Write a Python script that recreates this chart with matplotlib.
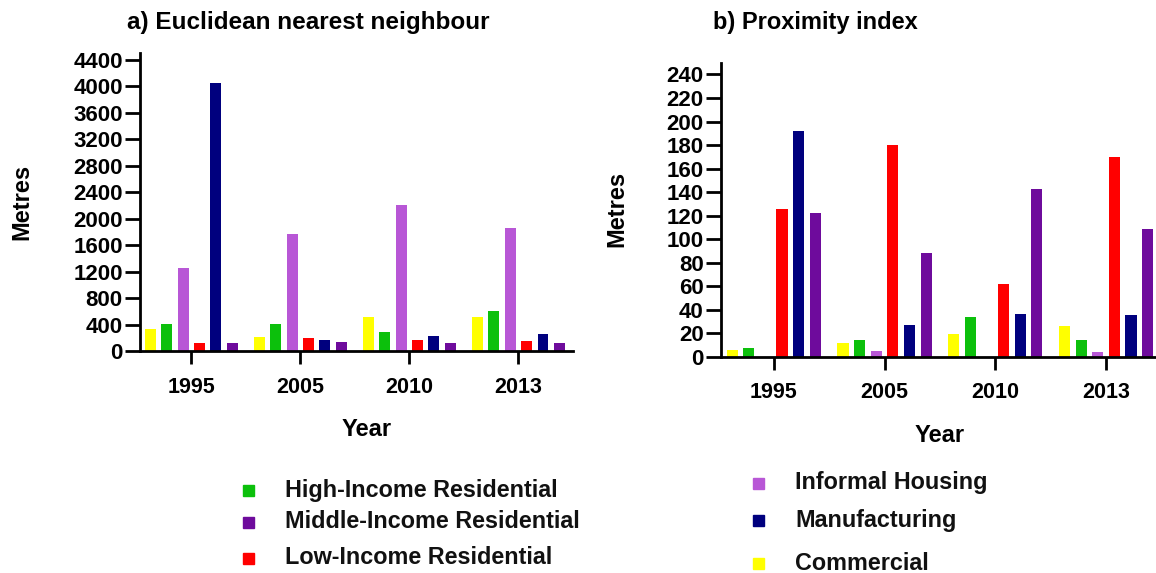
import numpy as np
import matplotlib
matplotlib.use("Agg")
import matplotlib.pyplot as plt
from matplotlib.patches import Rectangle

plt.rcParams['font.family'] = ['Liberation Sans', 'DejaVu Sans']
plt.rcParams['font.weight'] = 'bold'

years = ['1995', '2005', '2010', '2013']
categories = ['Commercial', 'High-Income Residential', 'Informal Housing',
              'Low-Income Residential', 'Manufacturing', 'Middle-Income Residential']
colors = ['#FFFF00', '#0CC00C', '#B857D6', '#FF0000', '#00007E', '#6E0B9C']

# a) Euclidean nearest neighbour (metres)
enn_commercial = [338, 207, 514, 509]
enn_high_income = [413, 403, 282, 610]
enn_informal = [1250, 1769, 2207, 1860]
enn_low_income = [116, 202, 161, 146]
enn_manufacturing = [4052, 161, 227, 262]
enn_middle_income = [116, 141, 121, 121]

# b) Proximity index
prox_commercial = [5.7, 11.4, 19.3, 26.1]
prox_high_income = [7.1, 14.2, 33.5, 13.9]
prox_informal = [0, 5.1, 0, 4.3]
prox_low_income = [126, 180, 61.4, 169.6]
prox_manufacturing = [192, 26.7, 36.4, 35.5]
prox_middle_income = [122.4, 88, 142.6, 108.5]

enn = [enn_commercial, enn_high_income, enn_informal,
       enn_low_income, enn_manufacturing, enn_middle_income]
prox = [prox_commercial, prox_high_income, prox_informal,
        prox_low_income, prox_manufacturing, prox_middle_income]

W, H = 1156, 573
fig = plt.figure(figsize=(W / 100, H / 100), dpi=100)


def px_axes(left, right, top, bottom):
    return fig.add_axes([left / W, 1 - bottom / H, (right - left) / W, (bottom - top) / H])


def draw_panel(ax, series, ymax, ystep, ytop, xlim):
    x = np.arange(len(years))
    step, width = 0.15, 0.10
    for i, (vals, col) in enumerate(zip(series, colors)):
        ax.bar(x + (i - 2.5) * step, vals, width=width, color=col, zorder=2)
    ax.set_xlim(*xlim)
    ax.set_ylim(0, ytop)
    ax.set_yticks(np.arange(0, ymax + 1, ystep))
    ax.set_xticks(x)
    ax.set_xticklabels(years)
    for s in ['top', 'right']:
        ax.spines[s].set_visible(False)
    for s in ['left', 'bottom']:
        ax.spines[s].set_linewidth(2.0)
    ax.tick_params(axis='y', length=11, width=2.0, pad=1.5, labelsize=16)
    ax.tick_params(axis='x', length=9.5, width=2.0, pad=9, labelsize=15.5)
    for lab in ax.get_xticklabels() + ax.get_yticklabels():
        lab.set_fontweight('bold')


axa = px_axes(140, 573, 53, 351)
draw_panel(axa, enn, 4400, 400, 4500, (-0.47, 3.5))

axb = px_axes(721, 1160, 62.7, 356.7)
draw_panel(axb, prox, 240, 20, 250, (-0.476, 3.487))

# titles and axis labels
fig.text(308 / W, 1 - 23 / H, 'a) Euclidean nearest neighbour', ha='center', va='center',
         fontsize=17.5, fontweight='bold')
fig.text(815 / W, 1 - 23 / H, 'b) Proximity index', ha='center', va='center',
         fontsize=17, fontweight='bold')
fig.text(22 / W, 1 - 202 / H, 'Metres', rotation=90, ha='center', va='center',
         fontsize=17, fontweight='bold')
fig.text(617 / W, 1 - 209 / H, 'Metres', rotation=90, ha='center', va='center',
         fontsize=17, fontweight='bold')
fig.text(367 / W, 1 - 430 / H, 'Year', ha='center', va='center', fontsize=17, fontweight='bold')
fig.text(940 / W, 1 - 435 / H, 'Year', ha='center', va='center', fontsize=17, fontweight='bold')

# legends
legend_a = [(1, 490), (5, 522), (3, 558)]
legend_b = [(2, 483), (4, 520), (0, 563)]
sq = 11


def draw_legend(entries, mx, tx):
    for idx, yc in entries:
        fig.patches.append(Rectangle((mx / W, 1 - (yc + sq / 2) / H), sq / W, sq / H,
                                     transform=fig.transFigure, color=colors[idx],
                                     figure=fig))
        fig.text(tx / W, 1 - yc / H, categories[idx], ha='left', va='center',
                 fontsize=16.8, fontweight='bold', color='#111111')


draw_legend(legend_a, 243, 285)
draw_legend(legend_b, 753, 795)

fig.savefig('out.png', dpi=100)
